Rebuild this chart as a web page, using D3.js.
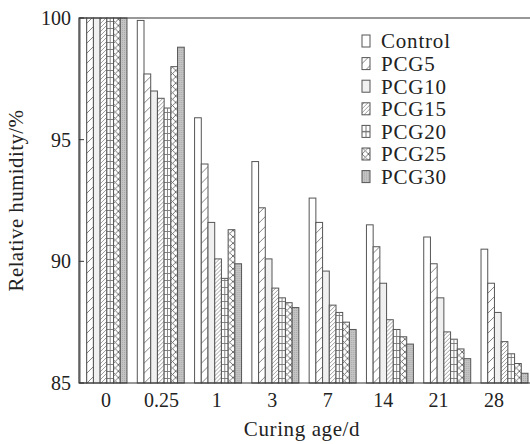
<!DOCTYPE html>
<meta charset="utf-8">
<style>
body { margin: 0; background: #fff; }
text { font-family: "Liberation Serif", "Times New Roman", serif; fill: #222; }
</style>
<body>
<script src="https://d3js.org/d3.v7.min.js"></script>
<script>

var ages = ["0", "0.25", "1", "3", "7", "14", "21", "28"];
var names = ["Control", "PCG5", "PCG10", "PCG15", "PCG20", "PCG25", "PCG30"];

var control = [100, 99.9, 95.9, 94.1, 92.6, 91.5, 91.0, 90.5];
var pcg5    = [100, 97.7, 94.0, 92.2, 91.6, 90.6, 89.9, 89.1];
var pcg10   = [100, 97.0, 91.6, 90.1, 89.6, 89.1, 88.5, 87.9];
var pcg15   = [100, 96.7, 90.1, 88.9, 88.2, 87.6, 87.1, 86.7];
var pcg20   = [100, 96.3, 89.3, 88.5, 87.9, 87.2, 86.8, 86.2];
var pcg25   = [100, 98.0, 91.3, 88.3, 87.5, 86.9, 86.4, 85.8];
var pcg30   = [100, 98.8, 89.9, 88.1, 87.2, 86.6, 86.0, 85.4];

var yTicks = [85, 90, 95, 100];

var series = [control, pcg5, pcg10, pcg15, pcg20, pcg25, pcg30];

var width = 530, height = 444;
var mLeft = 79, mTop = 18, mBottom = 383;
var edge = "#555";

var svg = d3.select("body").append("svg")
    .attr("width", width)
    .attr("height", height);

var defs = svg.append("defs");

// fills for each series
function pat(id, w, h) {
  return defs.append("pattern")
      .attr("id", id)
      .attr("patternUnits", "userSpaceOnUse")
      .attr("width", w)
      .attr("height", h);
}

var p5 = pat("p5", 10, 10);
p5.append("rect").attr("width", 10).attr("height", 10).attr("fill", "#fff");
p5.append("path").attr("d", "M-1,11 L11,-1").attr("stroke", "#666").attr("stroke-width", 0.8);

var p15 = pat("p15", 4, 4);
p15.append("rect").attr("width", 4).attr("height", 4).attr("fill", "#fff");
p15.append("path").attr("d", "M-1,5 L5,-1 M-1,1 L1,-1 M3,5 L5,3").attr("stroke", "#777").attr("stroke-width", 0.7);

var p20 = pat("p20", 8, 7);
p20.append("rect").attr("width", 8).attr("height", 7).attr("fill", "#fff");
p20.append("path").attr("d", "M0,0.5 H8").attr("stroke", "#777").attr("stroke-width", 0.9);

var p25 = pat("p25", 6.4, 6.4);
p25.append("rect").attr("width", 6.4).attr("height", 6.4).attr("fill", "#fff");
p25.append("path").attr("d", "M0,0 L6.4,6.4 M6.4,0 L0,6.4").attr("stroke", "#666").attr("stroke-width", 0.9);

var p30 = pat("p30", 2, 2);
p30.append("rect").attr("width", 2).attr("height", 2).attr("fill", "#c4c4c4");
p30.append("rect").attr("width", 1).attr("height", 1).attr("fill", "#aaa");

var fills = ["#fff", "url(#p5)", "#f0f0f0", "url(#p15)", "url(#p20)", "url(#p25)", "url(#p30)"];

// bar groups and the tick labels sit on slightly different grids in the original
var x0 = d3.scaleBand()
    .domain(ages)
    .range([80, 528])
    .paddingInner(0.18)
    .paddingOuter(0);

var xLab = d3.scalePoint()
    .domain(ages)
    .range([106, 494]);

var x1 = d3.scaleBand()
    .domain(names)
    .range([0, x0.bandwidth()]);

var y = d3.scaleLinear()
    .domain([85, 100])
    .range([mBottom, mTop]);

var groups = svg.selectAll("g.group")
    .data(ages)
    .enter().append("g")
    .attr("class", "group")
    .attr("transform", function(d) { return "translate(" + x0(d) + ",0)"; });

groups.selectAll("rect")
    .data(function(d, i) { return names.map(function(n, k) { return {name: n, k: k, v: series[k][i]}; }); })
    .enter().append("rect")
    .attr("x", function(d) { return x1(d.name); })
    .attr("y", function(d) { return y(d.v); })
    .attr("width", x1.bandwidth())
    .attr("height", function(d) { return y(85) - y(d.v); })
    .attr("fill", function(d) { return fills[d.k]; })
    .attr("stroke", edge)
    .attr("stroke-width", 1);

// center line for PCG20 bars
groups.append("line")
    .attr("x1", x1("PCG20") + x1.bandwidth() / 2)
    .attr("x2", x1("PCG20") + x1.bandwidth() / 2)
    .attr("y1", function(d, i) { return y(pcg20[i]); })
    .attr("y2", y(85))
    .attr("stroke", "#777")
    .attr("stroke-width", 0.9);

// frame
svg.append("path")
    .attr("d", "M" + width + "," + mTop + " H" + mLeft + " V" + mBottom + " H" + width)
    .attr("fill", "none")
    .attr("stroke", "#333")
    .attr("stroke-width", 1.2);

// y ticks (inward) and labels
svg.selectAll("line.ytick")
    .data(yTicks)
    .enter().append("line")
    .attr("class", "ytick")
    .attr("x1", mLeft).attr("x2", mLeft + 5)
    .attr("y1", function(d) { return y(d); })
    .attr("y2", function(d) { return y(d); })
    .attr("stroke", "#333");

svg.selectAll("text.ylab")
    .data(yTicks)
    .enter().append("text")
    .attr("class", "ylab")
    .attr("x", mLeft - 8)
    .attr("y", function(d) { return y(d); })
    .attr("dy", "0.35em")
    .attr("text-anchor", "end")
    .style("font-size", "20px")
    .text(function(d) { return d; });

svg.selectAll("text.xlab")
    .data(ages)
    .enter().append("text")
    .attr("class", "xlab")
    .attr("x", function(d) { return xLab(d); })
    .attr("y", 407)
    .attr("text-anchor", "middle")
    .style("font-size", "20px")
    .text(function(d) { return d; });

svg.append("text")
    .attr("x", 302)
    .attr("y", 436)
    .attr("text-anchor", "middle")
    .style("font-size", "21px")
    .style("letter-spacing", "0.6px")
    .text("Curing age/d");

svg.append("text")
    .attr("transform", "translate(23," + (mTop + mBottom) / 2 + ") rotate(-90)")
    .attr("text-anchor", "middle")
    .style("font-size", "21px")
    .style("letter-spacing", "0.4px")
    .text("Relative humidity/%");

// legend
var legend = svg.selectAll("g.legendEntry")
    .data(names)
    .enter().append("g")
    .attr("class", "legendEntry")
    .attr("transform", function(d, i) { return "translate(362," + (41 + i * 22.6) + ")"; });

legend.append("rect")
    .attr("x", 0).attr("y", -6)
    .attr("width", 8).attr("height", 12)
    .attr("fill", function(d, i) { return fills[i]; })
    .attr("stroke", edge);

legend.filter(function(d) { return d === "PCG20"; })
    .append("path")
    .attr("d", "M4,-6 V6 M0,0 H8")
    .attr("stroke", "#777");

legend.append("text")
    .attr("x", 19)
    .attr("y", 0)
    .attr("dy", "0.35em")
    .style("font-size", "21px")
    .style("letter-spacing", "0.8px")
    .text(function(d) { return d; });

</script>
